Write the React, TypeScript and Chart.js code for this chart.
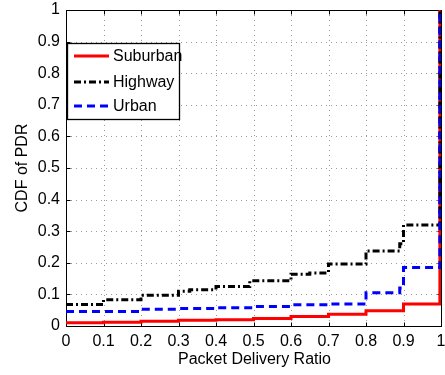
import React, { useEffect, useRef } from "react";
import { Chart, registerables } from "chart.js";

Chart.register(...registerables);

const xTicks = [0, 0.1, 0.2, 0.3, 0.4, 0.5, 0.6, 0.7, 0.8, 0.9, 1];
const yTicks = [0, 0.1, 0.2, 0.3, 0.4, 0.5, 0.6, 0.7, 0.8, 0.9, 1];

const suburbanX = [0, 0.1, 0.2, 0.3, 0.4, 0.5, 0.6, 0.7, 0.8, 0.9, 0.997, 1];
const suburbanY = [0.01, 0.012, 0.015, 0.018, 0.02, 0.024, 0.03, 0.037, 0.048, 0.07, 1, 1];

const highwayX = [0, 0.1, 0.2, 0.3, 0.33, 0.4, 0.49, 0.6, 0.65, 0.7, 0.8, 0.89, 0.9, 0.997, 1];
const highwayY = [0.068, 0.083, 0.097, 0.11, 0.115, 0.125, 0.143, 0.164, 0.168, 0.196, 0.237, 0.26, 0.32, 1, 1];

const urbanX = [0, 0.2, 0.3, 0.4, 0.5, 0.6, 0.7, 0.8, 0.89, 0.9, 0.997, 1];
const urbanY = [0.046, 0.053, 0.055, 0.058, 0.062, 0.067, 0.07, 0.105, 0.12, 0.185, 1, 1];

const seriesNames = ["Suburban", "Highway", "Urban"];
const seriesColors = ["#ff0000", "#000000", "#0000ff"];
const seriesDash: number[][] = [[], [7, 3, 2, 3], [8, 5]];

const FONT = "'Liberation Sans', Arial, sans-serif";

const toPoints = (xs: number[], ys: number[]) => xs.map((x, i) => ({ x, y: ys[i] }));

const framePlugin = {
  id: "frame",
  beforeDatasetsDraw(chart: any) {
    const { ctx, chartArea: a, scales } = chart;
    const xs = scales.x, ys = scales.y;
    ctx.save();
    ctx.strokeStyle = "#9a9a9a";
    ctx.lineWidth = 1;
    ctx.setLineDash([1, 4]);
    xTicks.forEach((v) => {
      const px = Math.round(xs.getPixelForValue(v)) + 0.5;
      if (v === 0 || v === 1) return;
      ctx.beginPath();
      ctx.moveTo(px, a.top);
      ctx.lineTo(px, a.bottom);
      ctx.stroke();
    });
    yTicks.forEach((v) => {
      const py = Math.round(ys.getPixelForValue(v)) + 0.5;
      if (v === 0 || v === 1) return;
      ctx.beginPath();
      ctx.moveTo(a.left, py);
      ctx.lineTo(a.right, py);
      ctx.stroke();
    });
    ctx.setLineDash([]);
    ctx.strokeStyle = "#000";
    const L = Math.round(a.left) + 0.5, R = Math.round(a.right) + 0.5;
    const T = Math.round(a.top) + 0.5, B = Math.round(a.bottom) + 0.5;
    ctx.strokeRect(L, T, R - L, B - T);
    const tl = 4;
    xTicks.forEach((v) => {
      const px = Math.round(xs.getPixelForValue(v)) + 0.5;
      ctx.beginPath();
      ctx.moveTo(px, B); ctx.lineTo(px, B - tl);
      ctx.moveTo(px, T); ctx.lineTo(px, T + tl);
      ctx.stroke();
    });
    yTicks.forEach((v) => {
      const py = Math.round(ys.getPixelForValue(v)) + 0.5;
      ctx.beginPath();
      ctx.moveTo(L, py); ctx.lineTo(L + tl, py);
      ctx.moveTo(R, py); ctx.lineTo(R - tl, py);
      ctx.stroke();
    });
    ctx.restore();
  },
  afterDraw(chart: any) {
    const { ctx, chartArea: a } = chart;
    ctx.save();
    ctx.fillStyle = "#000";
    ctx.font = `16px ${FONT}`;
    ctx.textAlign = "center";
    ctx.textBaseline = "middle";
    ctx.fillText("Packet Delivery Ratio", (a.left + a.right) / 2 + 1, 360);
    ctx.translate(23, (a.top + a.bottom) / 2);
    ctx.rotate(-Math.PI / 2);
    ctx.fillText("CDF of PDR", 0, 0);
    ctx.restore();

    ctx.save();
    const bx = 67.5, by = 43.5, bw = 112, bh = 76;
    ctx.fillStyle = "#fff";
    ctx.fillRect(bx, by, bw, bh);
    ctx.strokeStyle = "#000";
    ctx.lineWidth = 1.3;
    ctx.strokeRect(bx, by, bw, bh);
    const rows = [56, 82, 106];
    seriesNames.forEach((name, i) => {
      ctx.beginPath();
      ctx.strokeStyle = seriesColors[i];
      ctx.lineWidth = 3;
      ctx.setLineDash(seriesDash[i]);
      ctx.moveTo(74, rows[i]);
      ctx.lineTo(109, rows[i]);
      ctx.stroke();
      ctx.setLineDash([]);
      ctx.fillStyle = "#000";
      ctx.font = `16px ${FONT}`;
      ctx.textAlign = "left";
      ctx.textBaseline = "middle";
      ctx.fillText(name, 113, rows[i] + 1);
    });
    ctx.restore();
  },
};

export default function App() {
  const ref = useRef<HTMLCanvasElement | null>(null);
  useEffect(() => {
    if (!ref.current) return;
    const data = [toPoints(suburbanX, suburbanY), toPoints(highwayX, highwayY), toPoints(urbanX, urbanY)];
    const chart = new Chart(ref.current, {
      type: "line",
      data: {
        datasets: seriesNames.map((name, i) => ({
          label: name,
          data: data[i],
          borderColor: seriesColors[i],
          backgroundColor: seriesColors[i],
          borderWidth: 3,
          borderDash: seriesDash[i],
          pointRadius: 0,
          stepped: "before" as const,
          fill: false,
          order: 3 - i,
        })),
      },
      options: {
        responsive: false,
        animation: false,
        layout: { padding: { left: 0, top: 10, right: 4, bottom: 0 } },
        plugins: { legend: { display: false }, tooltip: { enabled: false } },
        scales: {
          x: {
            type: "linear",
            min: 0,
            max: 1,
            afterBuildTicks: (s: any) => { s.ticks = xTicks.map((v) => ({ value: v })); },
            afterFit: (s: any) => {
              s.height = 49;
              s.paddingLeft = 0; s.paddingRight = 0; s.paddingTop = 0; s.paddingBottom = 0;
            },
            ticks: {
              color: "#000",
              font: { family: FONT, size: 16 },
              padding: 6,
              maxRotation: 0,
              autoSkip: false,
              callback: (v: any) => String(v),
            },
            grid: { display: false, drawTicks: false },
            border: { display: false },
          },
          y: {
            type: "linear",
            min: 0,
            max: 1,
            afterBuildTicks: (s: any) => { s.ticks = yTicks.map((v) => ({ value: v })); },
            afterFit: (s: any) => {
              s.width = 66;
              s.paddingLeft = 0; s.paddingRight = 0; s.paddingTop = 0; s.paddingBottom = 0;
            },
            ticks: {
              color: "#000",
              font: { family: FONT, size: 16 },
              padding: 6,
              autoSkip: false,
              callback: (v: any) => String(v),
            },
            grid: { display: false, drawTicks: false },
            border: { display: false },
          },
        },
      },
      plugins: [framePlugin],
    });
    return () => chart.destroy();
  }, []);
  return (
    <div style={{ position: "absolute", left: 0, top: 0, width: 445, height: 375, background: "#fff" }}>
      <canvas ref={ref} width={445} height={375} />
    </div>
  );
}
